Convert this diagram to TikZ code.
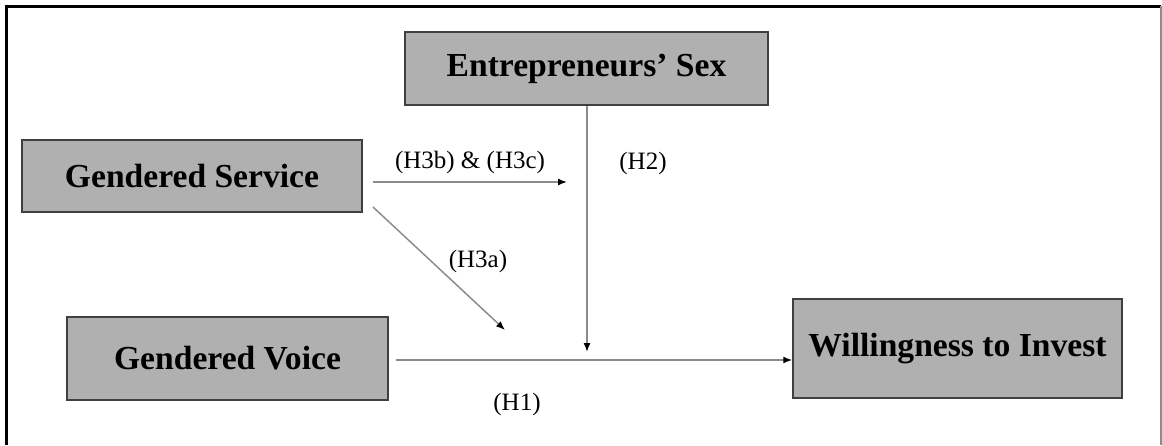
\documentclass[tikz,border=0pt]{standalone}
\usepackage{fontspec}
\setmainfont{Liberation Serif}
\usetikzlibrary{arrows.meta}
\definecolor{boxfill}{HTML}{B0B0B0}
\definecolor{boxline}{HTML}{404040}
\definecolor{conn}{HTML}{8C8C8C}
\begin{document}
\begin{tikzpicture}[x=1pt,y=-1pt,
  varbox/.style={draw=boxline,line width=1.5pt,fill=boxfill,rectangle,inner sep=0pt,
    font=\fontsize{33.6}{40}\selectfont\bfseries},
  link/.style={draw=conn,line width=1.5pt,-{Latex[length=9pt,width=7pt,color=black]}},
  lbl/.style={font=\fontsize{25}{30}\selectfont,inner sep=0pt}]
\useasboundingbox (0,0) rectangle (1162,445);
% frame
\draw[black,line width=3pt] (4.5,6) -- (1161,6);
\draw[black,line width=3pt] (6,4.5) -- (6,445);
\draw[conn,line width=1.5pt] (1161,6) -- (1161,445);
% boxes
\node[varbox,minimum width=363pt,minimum height=73pt] (es) at (586.5,68.5) {Entrepreneurs’ Sex};
\node[varbox,minimum width=340pt,minimum height=72pt] (gs) at (192,176) {Gendered Service};
\node[varbox,minimum width=321pt,minimum height=83pt] (gv) at (227.5,358.5) {Gendered Voice};
\node[varbox,minimum width=329pt,minimum height=99pt] (wi) at (957.5,348.5) {Willingness to Invest};
% coordinates
\coordinate (h1s) at (396,360);
\coordinate (h2e) at (587,352);
\coordinate (bcs) at (373,182);
\coordinate (bce) at (567,182);
\coordinate (as) at (373,207);
\coordinate (ae) at (505,330);
% connectors
\draw[link] (h1s) -- (h1s -| wi.west);
\draw[link] (es.south -| h2e) -- (h2e);
\draw[link] (bcs) -- (bce);
\draw[link] (as) -- (ae);
% labels
\node[lbl] (l3bc) at (470,162) {(H3b) \& (H3c)};
\node[lbl] (l2) at (643,163) {(H2)};
\node[lbl] (l3a) at (478,261) {(H3a)};
\node[lbl] (l1) at (517,404) {(H1)};
\end{tikzpicture}
\end{document}
